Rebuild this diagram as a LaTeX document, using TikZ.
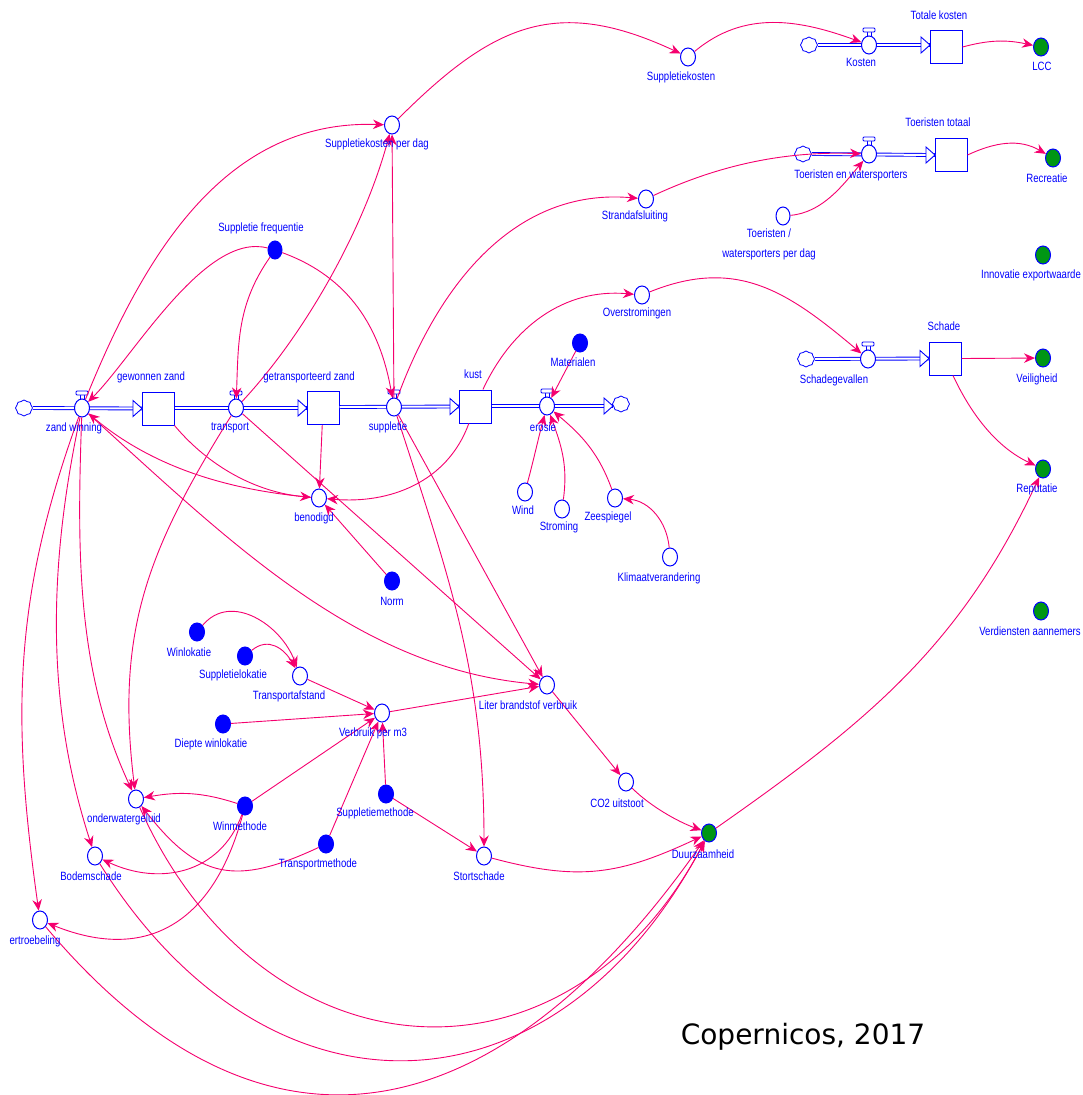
\documentclass[tikz,border=0pt]{standalone}
\usepackage{fontspec}
\setmainfont{Liberation Sans}
\newfontfamily\lblfont[FakeStretch=0.8]{Liberation Sans}
\newfontfamily\capfont{DejaVu Sans}
\usetikzlibrary{shapes.geometric,shapes.symbols,arrows.meta,calc}
\definecolor{vblue}{RGB}{0,0,255}
\definecolor{lnk}{RGB}{245,0,110}
\definecolor{vgreen}{RGB}{0,150,20}
\tikzset{
  aux/.style={ellipse,draw=vblue,fill=white,line width=1pt,minimum width=15pt,minimum height=18pt,inner sep=0pt},
  inp/.style={aux,fill=vblue},
  goal/.style={aux,fill=vgreen},
  stockbox/.style={rectangle,draw=vblue,fill=white,line width=1pt,minimum width=32pt,minimum height=33pt,inner sep=0pt},
  puff/.style={cloud,cloud puffs=8,cloud puff arc=110,draw=vblue,fill=white,line width=.8pt,minimum width=17pt,minimum height=16pt,inner sep=0pt,aspect=1.1},
  flow/.style={draw=vblue,line width=.9pt,double=white,double distance=2pt},
  flowhd/.style={draw=vblue,fill=white,line width=.9pt,line join=miter},
  vtop/.style={draw=vblue,fill=white,line width=.9pt,rounded corners=1pt},
  lbl/.style={text=vblue,font=\lblfont\fontsize{12}{14}\selectfont,inner sep=0pt,align=center},
  link/.style={draw=lnk,line width=.9pt,-{Stealth[length=11pt,width=9.5pt]}},
}
\newcommand\fhead[1]{\draw[flowhd] ($(#1)+(-9,-8)$) -- (#1) -- ($(#1)+(-9,8)$) -- cycle;}
\newcommand\vvtop[1]{\draw[draw=vblue,line width=.9pt] ($(#1)+(-2,-13)$) -- ($(#1)+(-2,-8)$) ($(#1)+(2,-13)$) -- ($(#1)+(2,-8)$); \draw[vtop] ($(#1)+(-6,-17)$) rectangle ($(#1)+(6,-13)$);}
\begin{document}
\begin{tikzpicture}[x=1pt,y=-1pt]
\useasboundingbox (0,0) rectangle (1082,1095);
% stocks and clouds
\node[puff] (c1) at (24,408) {};
\node[stockbox] (s1) at (158,408.5) {};
\node[stockbox] (s2) at (323,408) {};
\node[stockbox] (s3) at (475,406.5) {};
\node[puff] (c2) at (621,404) {};
\node[puff] (c3) at (809,45) {};
\node[stockbox] (s4) at (946,47) {};
\node[puff] (c4) at (803,154) {};
\node[stockbox] (s5) at (951,155) {};
\node[puff] (c5) at (806,359) {};
\node[stockbox] (s6) at (945,358.5) {};
% flows
\coordinate (h1) at (142,408.5);
\coordinate (h2) at (307,408);
\coordinate (h3) at (459,406.5);
\coordinate (h4) at (613,406);
\coordinate (h5) at (930,45);
\coordinate (h6) at (935,155);
\coordinate (h7) at (929,358.5);
\coordinate (v1) at (82,408);
\coordinate (v2) at (236,408);
\coordinate (v3) at (394,407);
\coordinate (v4) at (547,406);
\coordinate (v5) at (869,45);
\coordinate (v6) at (869,154);
\coordinate (v7) at (868,359);
\draw[flow] (c1.east |- v1) -- (h1);
\draw[flow] (s1.east |- v2) -- (h2);
\draw[flow] (s2.east |- v3) -- (h3);
\draw[flow] (s3.east |- v4) -- (h4);
\draw[flow] (c3.east |- v5) -- (h5);
\draw[flow] (c4.east |- v6) -- (h6);
\draw[flow] (c5.east |- v7) -- (h7);
\fhead{h1}\fhead{h2}\fhead{h3}\fhead{h4}\fhead{h5}\fhead{h6}\fhead{h7}
\vvtop{v1}\vvtop{v2}\vvtop{v3}\vvtop{v4}\vvtop{v5}\vvtop{v6}\vvtop{v7}
% valves and converters
\node[aux] (zw) at (v1) {};
\node[aux] (tr) at (v2) {};
\node[aux] (su) at (v3) {};
\node[aux] (er) at (v4) {};
\node[aux] (ko) at (v5) {};
\node[aux] (te) at (v6) {};
\node[aux] (sg) at (v7) {};
\node[aux] (sk) at (688,57) {};
\node[aux] (skd) at (392,125) {};
\node[inp,minimum width=14pt] (sf) at (275,250) {};
\node[aux] (sa) at (646,199) {};
\node[aux,minimum width=14pt] (tp) at (783,216) {};
\node[aux] (ov) at (642,295) {};
\node[inp] (ma) at (580,343) {};
\node[aux] (be) at (319,498) {};
\node[inp] (no) at (392,581) {};
\node[aux] (wi) at (525,492) {};
\node[aux] (st) at (562,509) {};
\node[aux] (ze) at (615,498) {};
\node[aux] (kl) at (670,557) {};
\node[inp] (wl) at (197,632) {};
\node[inp] (sl) at (245,656) {};
\node[aux] (ta) at (300,676) {};
\node[inp] (dw) at (223,724) {};
\node[aux] (vb) at (382,713) {};
\node[aux] (li) at (547,685) {};
\node[aux] (co) at (626,782) {};
\node[goal] (du) at (709,833) {};
\node[inp] (sm) at (386,794) {};
\node[aux] (sc) at (484,856) {};
\node[inp] (wm) at (245,806) {};
\node[inp] (tm) at (326,844) {};
\node[aux] (og) at (136,799) {};
\node[aux] (bs) at (95,856) {};
\node[aux] (ve) at (40,920) {};
\node[goal] (lc) at (1041,47) {};
\node[goal] (re) at (1053,158) {};
\node[goal] (in) at (1043,255) {};
\node[goal] (vl) at (1043,358) {};
\node[goal] (rp) at (1043,469) {};
\node[goal] (vd) at (1041,611) {};
% links
\draw[link] (skd) to[out=45,in=155,looseness=1.2] (sk);
\draw[link] (sk) to[out=40,in=160,looseness=1] (ko);
\draw[link] (s4.east) to[out=15,in=168,looseness=1] (lc);
\draw[link] (s5.east) to[out=25,in=150,looseness=1] (re);
\draw[link] (su) to[out=70,in=175,looseness=1] (sa);
\draw[link] (sa) to[out=25,in=178,looseness=.9] (te);
\draw[link] (tp) to[out=5,in=-130,looseness=.9] (te);
\draw[link] (s3) to[out=65,in=175,looseness=1] (ov);
\draw[link] (ov) to[out=22,in=140,looseness=1.1] (sg);
\draw[link] (s6.east) -- (vl);
\draw[link] ($(s6.south)+(8,0)$) to[out=-65,in=155,looseness=.9] (rp);
\draw[link] (du) to[out=35,in=-115,looseness=1] (rp);
\draw[link] (ma) -- (er);
\draw[link] (wi) to[out=75,in=-105,looseness=1] (er);
\draw[link] (st) to[out=82,in=-70,looseness=1] (er);
\draw[link] (ze) to[out=110,in=-40,looseness=1] (er);
\draw[link] (kl) to[out=95,in=-5,looseness=1] (ze);
\draw[link] (s3) to[out=-110,in=-5,looseness=1] (be);
\draw[link] (no) -- (be);
\draw[link] (s1.south east) to[out=-50,in=175,looseness=.9] (be);
\draw[link] (be) to[out=175,in=-40,looseness=.9] (zw);
\draw[link] (s2) -- (be);
\draw[link] (tr) -- (li);
\draw[link] (su) -- (li);
\draw[link] (zw) to[out=-42,in=175,looseness=.9] (li);
\draw[link] (tr) to[out=47,in=-105,looseness=.8] (skd);
\draw[link] (su) -- (skd);
\draw[link] (sf) to[out=-20,in=100,looseness=1] (su);
\draw[link] (sf) to[out=-125,in=88,looseness=1] (tr);
\draw[link] (sf) to[out=165,in=45,looseness=.7] (zw);
\draw[link] (zw) to[out=68,in=178,looseness=1] (skd);
\draw[link] (su) to[out=-72,in=90,looseness=1] (sc);
\draw[link] (tr) to[out=-122,in=97,looseness=1.05] (og);
\draw[link] (zw) to[out=-92,in=115,looseness=.9] (og);
\draw[link] (zw) to[out=-102,in=108,looseness=.9] (bs);
\draw[link] (zw) to[out=-110,in=98,looseness=1] (ve);
\draw[link] (wl) to[out=50,in=110,looseness=1.1] (ta);
\draw[link] (sl) to[out=40,in=120,looseness=1.2] (ta);
\draw[link] (ta) -- (vb);
\draw[link] (dw) -- (vb);
\draw[link] (wm) -- (vb);
\draw[link] (tm) -- (vb);
\draw[link] (sm) -- (vb);
\draw[link] (vb) -- (li);
\draw[link] (sm) -- (sc);
\draw[link] (li) -- (co);
\draw[link] (co) to[out=-45,in=160,looseness=.8] (du);
\draw[link] (sc) to[out=-15,in=-155,looseness=1.1] (du);
\draw[link] (wm) to[out=162,in=10,looseness=1] (og);
\draw[link] (wm) to[out=-110,in=-25,looseness=1.1] (bs);
\draw[link] (tm) to[out=-155,in=-52,looseness=1.3] (og);
\draw[link] (wm) to[out=-105,in=-22,looseness=1.25] (ve);
\draw[link] (og) to[out=-66,in=-118,looseness=1.35] (du);
\draw[link] (bs) to[out=-58,in=-118,looseness=1.35] (du);
\draw[link] (ve) to[out=-50,in=-125,looseness=1.34] (du);
% labels
\node[lbl] (l01) at (74,428) {zand winning};
\node[lbl] (l02) at (151,377) {gewonnen zand};
\node[lbl] (l03) at (230,428) {transport};
\node[lbl] (l04) at (309,377) {getransporteerd zand};
\node[lbl] (l05) at (388,427) {suppletie};
\node[lbl] (l06) at (473,374) {kust};
\node[lbl] (l07) at (543,427) {erosie};
\node[lbl] (l08) at (573,362) {Materialen};
\node[lbl] (l09) at (523,510) {Wind};
\node[lbl] (l10) at (559,527) {Stroming};
\node[lbl] (l11) at (608,517) {Zeespiegel};
\node[lbl] (l12) at (659,578) {Klimaatverandering};
\node[lbl] (l13) at (314,518) {benodigd};
\node[lbl] (l14) at (392,601) {Norm};
\node[lbl] (l15) at (861,62) {Kosten};
\node[lbl] (l16) at (939,15) {Totale kosten};
\node[lbl] (l17) at (1042,66) {LCC};
\node[lbl] (l18) at (851,175) {Toeristen en watersporters};
\node[lbl] (l19) at (938,122) {Toeristen totaal};
\node[lbl] (l20) at (1047,178) {Recreatie};
\node[lbl,text depth=0pt] (l21) at (769,243) {Toeristen /\\[6pt]watersporters per dag};
\node[lbl] (l22) at (635,216) {Strandafsluiting};
\node[lbl] (l23) at (681,77) {Suppletiekosten};
\node[lbl] (l24) at (377,144) {Suppletiekosten per dag};
\node[lbl] (l25) at (261,228) {Suppletie frequentie};
\node[lbl] (l26) at (637,313) {Overstromingen};
\node[lbl] (l27) at (834,380) {Schadegevallen};
\node[lbl] (l28) at (944,326) {Schade};
\node[lbl] (l29) at (1037,379) {Veiligheid};
\node[lbl] (l30) at (1037,489) {Reputatie};
\node[lbl] (l31) at (1031,275) {Innovatie exportwaarde};
\node[lbl] (l32) at (1030,631) {Verdiensten aannemers};
\node[lbl] (l33) at (189,652) {Winlokatie};
\node[lbl] (l34) at (233,675) {Suppletielokatie};
\node[lbl] (l35) at (289,696) {Transportafstand};
\node[lbl] (l36) at (211,744) {Diepte winlokatie};
\node[lbl] (l37) at (373,733) {Verbruik per m3};
\node[lbl] (l38) at (528,705) {Liter brandstof verbruik};
\node[lbl] (l39) at (617,803) {CO2 uitstoot};
\node[lbl] (l40) at (703,854) {Duurzaamheid};
\node[lbl] (l41) at (375,813) {Suppletiemethode};
\node[lbl] (l42) at (479,876) {Stortschade};
\node[lbl] (l43) at (240,826) {Winmethode};
\node[lbl] (l44) at (318,864) {Transportmethode};
\node[lbl] (l45) at (124,819) {onderwatergeluid};
\node[lbl] (l46) at (91,876) {Bodemschade};
\node[lbl] (l47) at (35,941) {ertroebeling};
\node[inner sep=0pt,text=black,font=\capfont\fontsize{28}{32}\selectfont] (cap) at (803,1037) {Copernicos, 2017};
\end{tikzpicture}
\end{document}
